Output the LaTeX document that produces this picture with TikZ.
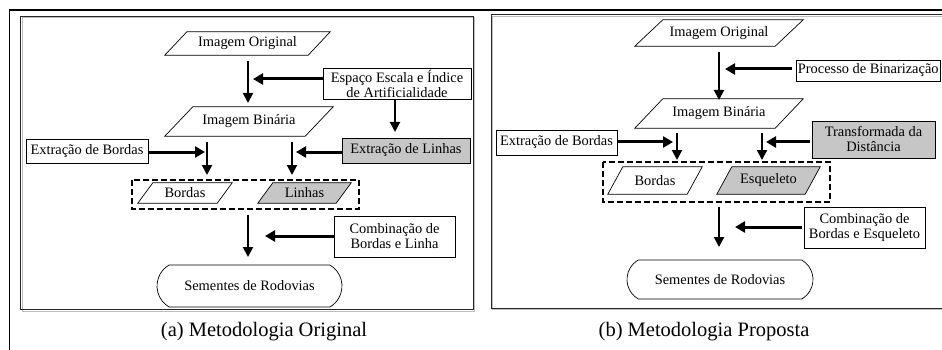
\documentclass[tikz,border=0pt]{standalone}
\usepackage{fontspec}
\setmainfont{Liberation Serif}
\usetikzlibrary{arrows.meta,shapes.misc,calc}
\pgfdeclarelayer{bg}
\pgfsetlayers{bg,main}
\newcommand\paral[3]{\begin{pgfonlayer}{bg}\draw[line width=0.7pt,fill=#3] ([xshift=#2]#1.north west) -- (#1.north east) -- ([xshift=-#2]#1.south east) -- (#1.south west) -- cycle;\end{pgfonlayer}}
\begin{document}
\begin{tikzpicture}[x=1pt,y=-1pt,
  txt/.style={font=\fontsize{14.4}{15}\selectfont},
  box/.style={draw,line width=0.7pt,inner sep=0pt,align=center,txt},
  gbox/.style={box,fill=gray!45},
  pnode/.style={inner sep=0pt,txt},
  arr/.style={line width=2pt,-{Triangle[length=10pt,width=10pt]}},
  harr/.style={line width=3pt,-{Triangle[length=10pt,width=11pt]}},
  dashbox/.style={line width=1.8pt,dash pattern=on 6pt off 3pt},
  term/.style={draw,line width=0.7pt,rounded rectangle,rounded rectangle arc length=120,inner sep=0pt,txt},
  captxt/.style={font=\fontsize{20.5}{22}\selectfont},
  panel/.style={draw=black!85,line width=1pt},
  shadow/.style={draw=gray!50,line width=1pt}]
\useasboundingbox (0,0) rectangle (942,350);
\begin{pgfonlayer}{bg}
\fill[white] (0,0) rectangle (942,350);
\end{pgfonlayer}
% outer frame
\draw[line width=1.5pt] (9.5,10) rectangle (980,400);
% panels
\draw[shadow] (22,18) rectangle (474.5,311);
\draw[panel] (20.5,16.5) rectangle (473,309.5);
\draw[shadow] (492.5,16.5) rectangle (980,309.5);
\draw[panel] (491,15) rectangle (980,308);

% ---------- left panel ----------
\node[pnode,minimum width=165pt,minimum height=23pt] (IO1) at (247.5,43.5) {Imagem Original};
\paral{IO1}{22pt}{white}
\node[box,minimum width=148pt,minimum height=31pt] (ESC1) at (397,83.5) {Espaço Escala e Índice\\de Artificialidade};
\node[pnode,minimum width=168pt,minimum height=29pt] (IB1) at (249,121.5) {Imagem Binária};
\paral{IB1}{28pt}{white}
\node[box,minimum width=122pt,minimum height=24pt] (EB1) at (87,151) {Extração de Bordas};
\node[gbox,minimum width=128pt,minimum height=25pt] (EL1) at (406,150.5) {Extração de Linhas};
\node[pnode,minimum width=94pt,minimum height=20pt] (BO1) at (185,193) {Bordas};
\paral{BO1}{15pt}{white}
\node[pnode,minimum width=93pt,minimum height=20pt] (LI1) at (304.5,193) {Linhas};
\paral{LI1}{15pt}{gray!45}
\draw[dashbox] (132,180) rectangle (359,209);
\node[box,minimum width=121pt,minimum height=41pt] (CB1) at (394.5,236.5) {Combinação de\\Bordas e Linha};
\node[term,minimum width=185pt,minimum height=42pt] (SR1) at (249.5,286) {Sementes de Rodovias};
\node[captxt] (CA) at (264,332) {(a) Metodologia Original};

\coordinate (a1s) at (248,61);  \coordinate (a1e) at (248,103);
\coordinate (a2e) at (253,79);
\coordinate (a3s) at (395,100); \coordinate (a3e) at (395,132);
\coordinate (a4e) at (205,152);
\coordinate (v1s) at (207,142); \coordinate (v1e) at (207,175);
\coordinate (v2s) at (292,142); \coordinate (v2e) at (292,175);
\coordinate (a5e) at (296,152);
\coordinate (a6s) at (248,215); \coordinate (a6e) at (248,257);
\coordinate (a7e) at (265,236);
\draw[arr] (a1s) -- (a1e);
\draw[harr] (ESC1.west |- a2e) -- (a2e);
\draw[arr] (a3s) -- (a3e);
\draw[harr] (EB1.east |- a4e) -- (a4e);
\draw[arr] (v1s) -- (v1e);
\draw[arr] (v2s) -- (v2e);
\draw[harr] (EL1.west |- a5e) -- (a5e);
\draw[arr] (a6s) -- (a6e);
\draw[harr] (CB1.west |- a7e) -- (a7e);

% ---------- right panel ----------
\node[pnode,minimum width=168pt,minimum height=26pt] (IO2) at (719,33) {Imagem Original};
\paral{IO2}{28pt}{white}
\node[box,anchor=west,inner xsep=1.5pt,minimum height=21pt] (PB2) at (796,70.5) {Processo de Binarização};
\node[pnode,minimum width=168pt,minimum height=29pt] (IB2) at (719,113.5) {Imagem Binária};
\paral{IB2}{28pt}{white}
\node[box,minimum width=121pt,minimum height=25pt] (EB2) at (556.5,142.5) {Extração de Bordas};
\node[gbox,minimum width=123pt,minimum height=37pt] (TD2) at (873.5,139.5) {Transformada da\\Distância};
\node[pnode,minimum width=94pt,minimum height=27pt] (BO2) at (655,180.5) {Bordas};
\paral{BO2}{15pt}{white}
\node[pnode,minimum width=103pt,minimum height=27pt] (ES2) at (768.5,180.5) {Esqueleto};
\paral{ES2}{15pt}{gray!45}
\draw[dashbox] (603,162) rectangle (830,202);
\node[box,minimum width=121pt,minimum height=41pt] (CB2) at (864.5,227.5) {Combinação de\\Bordas e Esqueleto};
\node[term,minimum width=186pt,minimum height=39pt] (SR2) at (720,279.5) {Sementes de Rodovias};
\node[captxt] (CB) at (704,332) {(b) Metodologia Proposta};

\coordinate (b1s) at (719,52);  \coordinate (b1e) at (719,100);
\coordinate (b2e) at (725,69);
\coordinate (b4e) at (673,142);
\coordinate (w1s) at (677,133); \coordinate (w1e) at (677,160);
\coordinate (w2s) at (762,133); \coordinate (w2e) at (762,160);
\coordinate (b5e) at (766,142);
\coordinate (b6s) at (719,207); \coordinate (b6e) at (719,247);
\coordinate (b7e) at (735,227);
\draw[arr] (b1s) -- (b1e);
\draw[harr] ([xshift=-4pt]PB2.west |- b2e) -- (b2e);
\draw[harr] (EB2.east |- b4e) -- (b4e);
\draw[arr] (w1s) -- (w1e);
\draw[arr] (w2s) -- (w2e);
\draw[harr] ([xshift=-2pt]TD2.west |- b5e) -- (b5e);
\draw[arr] (b6s) -- (b6e);
\draw[harr] ([xshift=-2pt]CB2.west |- b7e) -- (b7e);
\end{tikzpicture}
\end{document}
